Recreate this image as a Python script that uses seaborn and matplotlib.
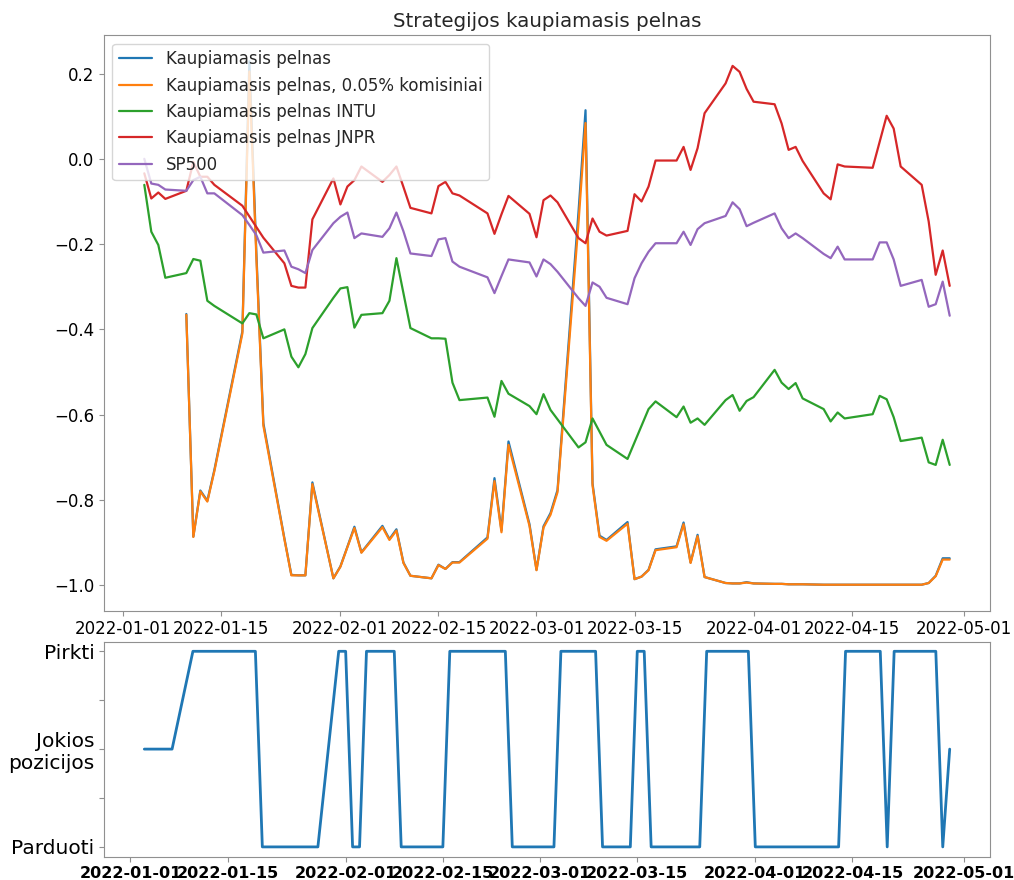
#!/usr/bin/env python3

# libraries
import matplotlib
matplotlib.use('Agg')

import matplotlib.pyplot as plt
import matplotlib.dates as mdates
import numpy as np
import pandas as pd
import seaborn as sns

# ------------------------------------------------------------
#     Data
# ------------------------------------------------------------

# trading days, 2022-01-03 .. 2022-04-29 (US market holidays dropped)
holidays = ['2022-01-17', '2022-02-21', '2022-04-15']
pos_dates = pd.bdate_range('2022-01-03', '2022-04-29', freq='C', holidays=holidays)
ret_dates = pos_dates[1:]

nan = np.nan

profit = [
    nan, nan, nan, nan, -0.364, -0.886, -0.778, -0.802, -0.730, -0.405,
    0.229, -0.220, -0.620, -0.890, -0.976, -0.977, -0.977, -0.759, -0.984,
    -0.956, -0.910, -0.863, -0.923, -0.861, -0.892, -0.869, -0.947, -0.978,
    -0.984, -0.952, -0.962, -0.946, -0.946, -0.888, -0.749, -0.872, -0.663,
    -0.857,
    -0.964, -0.862, -0.831, -0.777, -0.124, 0.114, -0.761, -0.884, -0.894,
    -0.852, -0.986, -0.980, -0.964, -0.916, -0.909, -0.853, -0.947, -0.882,
    -0.981, -0.995, -0.996, -0.996, -0.993,
    -0.996, -0.997, -0.997, -0.998, -0.998, -0.998, -0.999, -0.999, -0.999,
    -0.999, -0.999, -0.999, -0.999, -0.999, -0.999, -0.999, -0.995, -0.978,
    -0.937, -0.937,
]

profit_fee = [
    nan, nan, nan, nan, -0.366, -0.887, -0.780, -0.804, -0.733, -0.410,
    0.205, -0.232, -0.626, -0.892, -0.977, -0.977, -0.977, -0.763, -0.984,
    -0.957, -0.911, -0.866, -0.924, -0.864, -0.894, -0.872, -0.948, -0.978,
    -0.984, -0.953, -0.962, -0.947, -0.947, -0.891, -0.756, -0.876, -0.671,
    -0.861,
    -0.965, -0.865, -0.835, -0.782, -0.150, 0.084, -0.766, -0.887, -0.896,
    -0.856, -0.986, -0.980, -0.965, -0.918, -0.911, -0.857, -0.948, -0.885,
    -0.981, -0.995, -0.996, -0.996, -0.994,
    -0.996, -0.997, -0.997, -0.998, -0.998, -0.998, -0.999, -0.999, -0.999,
    -0.999, -0.999, -0.999, -0.999, -0.999, -0.999, -0.999, -0.995, -0.979,
    -0.940, -0.940,
]

intu = [
    -0.061, -0.171, -0.202, -0.279, -0.268, -0.235, -0.239, -0.333, -0.345,
    -0.386, -0.362, -0.365, -0.421, -0.400, -0.464, -0.489, -0.458, -0.397,
    -0.326,
    -0.304, -0.301, -0.396, -0.366, -0.362, -0.333, -0.233, -0.315, -0.397,
    -0.421, -0.421, -0.422, -0.525, -0.566, -0.560, -0.605, -0.521, -0.551,
    -0.580,
    -0.599, -0.552, -0.589, -0.611, -0.677, -0.665, -0.609, -0.640, -0.671,
    -0.704, -0.665, -0.626, -0.587, -0.569, -0.606, -0.581, -0.619, -0.609,
    -0.624, -0.566, -0.554, -0.591, -0.568,
    -0.559, -0.495, -0.525, -0.540, -0.526, -0.562, -0.587, -0.616, -0.595,
    -0.609, -0.599, -0.556, -0.564, -0.606, -0.662, -0.654, -0.712, -0.718,
    -0.659, -0.718,
]

jnpr = [
    -0.034, -0.093, -0.079, -0.094, -0.075, -0.007, -0.042, -0.042, -0.061,
    -0.110, -0.135, -0.160, -0.185, -0.245, -0.298, -0.302, -0.302, -0.142,
    -0.046,
    -0.107, -0.065, -0.050, -0.018, -0.054, -0.038, -0.018, -0.066, -0.115,
    -0.128, -0.064, -0.054, -0.081, -0.086, -0.128, -0.176, -0.130, -0.087,
    -0.129,
    -0.184, -0.097, -0.086, -0.102, -0.186, -0.198, -0.140, -0.171, -0.180,
    -0.169, -0.083, -0.100, -0.065, -0.004, -0.004, 0.028, -0.026, 0.025,
    0.107, 0.177, 0.218, 0.204, 0.164,
    0.134, 0.128, 0.083, 0.021, 0.028, -0.005, -0.081, -0.095, -0.013,
    -0.018, -0.021, 0.040, 0.101, 0.071, -0.018, -0.061, -0.147, -0.272,
    -0.215, -0.298,
]

sp500 = [
    0.000, -0.058, -0.061, -0.072, -0.075, -0.050, -0.042, -0.081, -0.081,
    -0.132, -0.155, -0.179, -0.220, -0.215, -0.253, -0.259, -0.268, -0.214,
    -0.151,
    -0.136, -0.126, -0.186, -0.175, -0.183, -0.163, -0.126, -0.170, -0.222,
    -0.228, -0.189, -0.186, -0.241, -0.253, -0.278, -0.315, -0.275, -0.236,
    -0.243,
    -0.276, -0.236, -0.247, -0.265, -0.327, -0.345, -0.290, -0.300, -0.326,
    -0.341, -0.280, -0.245, -0.218, -0.198, -0.198, -0.171, -0.202, -0.165,
    -0.151, -0.134, -0.102, -0.118, -0.158,
    -0.150, -0.128, -0.163, -0.186, -0.175, -0.186, -0.223, -0.233, -0.206,
    -0.236, -0.236, -0.196, -0.196, -0.236, -0.298, -0.284, -0.347, -0.341,
    -0.288, -0.368,
]

# 1 = buy, 0 = no position, -1 = sell
position = [
    0, 0, 0, 0, 0, 1, 1, 1, 1, 1, 1, 1, -1, -1, -1, -1, -1, -1, -1, 1,
    1, -1, -1, 1, 1, 1, -1, -1, -1, -1, -1, 1, 1, 1, 1, 1, 1, -1, -1,
    -1, -1, -1, 1, 1, 1, 1, -1, -1, -1, 1, 1, -1, -1, -1, -1, -1, -1,
    1, 1, 1, 1, 1,
    -1, -1, -1, -1, -1, -1, -1, -1, -1, 1, 1, 1, -1, 1, 1, 1, 1, 1, -1, 0,
]

series_names = [
    "Kaupiamasis pelnas",
    "Kaupiamasis pelnas, 0.05% komisiniai",
    "Kaupiamasis pelnas INTU",
    "Kaupiamasis pelnas JNPR",
    "SP500",
]
series_values = [profit, profit_fee, intu, jnpr, sp500]
position_ticks = [-1, -0.5, 0, 0.5, 1]
position_labels = ["Parduoti", "", "Jokios\npozicijos", "", "Pirkti"]

# ------------------------------------------------------------
#     Plotting
# ------------------------------------------------------------

sns.set_style("white")
plt.rcParams['font.family'] = ['DejaVu Sans']
plt.rcParams['axes.edgecolor'] = '#909090'
plt.rcParams['xtick.color'] = '#909090'
plt.rcParams['ytick.color'] = '#909090'
plt.rcParams['xtick.labelcolor'] = 'black'
plt.rcParams['ytick.labelcolor'] = 'black'
plt.rcParams['xtick.bottom'] = True
plt.rcParams['ytick.left'] = True

palette = sns.color_palette("tab10")

fig = plt.figure(figsize=(10.14, 8.8), dpi=100)
ax1 = fig.add_axes([0.1026, 0.306, 0.8737, 0.654])
ax2 = fig.add_axes([0.1026, 0.0265, 0.8737, 0.2445])

# top: cumulative profit lines
for i, (name, vals) in enumerate(zip(series_names, series_values)):
    sns.lineplot(x=ret_dates, y=vals, ax=ax1, color=palette[i],
                 linewidth=1.6, label=name)

ax1.set_ylim(-1.06, 0.29)
ax1.set_title("Strategijos kaupiamasis pelnas", fontsize=14.3)
ax1.legend(loc='upper left', fontsize=12, framealpha=0.8)
ax1.xaxis.set_major_locator(mdates.DayLocator(bymonthday=[1, 15]))
ax1.xaxis.set_major_formatter(mdates.DateFormatter('%Y-%m-%d'))
ax1.tick_params(axis='both', labelsize=12)
ax1.set_xlabel("")
ax1.set_ylabel("")

# bottom: position
sns.lineplot(x=pos_dates, y=position, ax=ax2, color=palette[0], linewidth=2.0)
ax2.set_ylim(-1.1, 1.1)
ax2.set_yticks(position_ticks)
ax2.set_yticklabels(position_labels, fontsize=14.5)
ax2.xaxis.set_major_locator(mdates.DayLocator(bymonthday=[1, 15]))
ax2.xaxis.set_major_formatter(mdates.DateFormatter('%Y-%m-%d'))
for lbl in ax2.get_xticklabels():
    lbl.set_fontweight('bold')
    lbl.set_fontsize(11.5)
ax2.set_xlabel("")
ax2.set_ylabel("")

fig.savefig("out.png", dpi=100)
